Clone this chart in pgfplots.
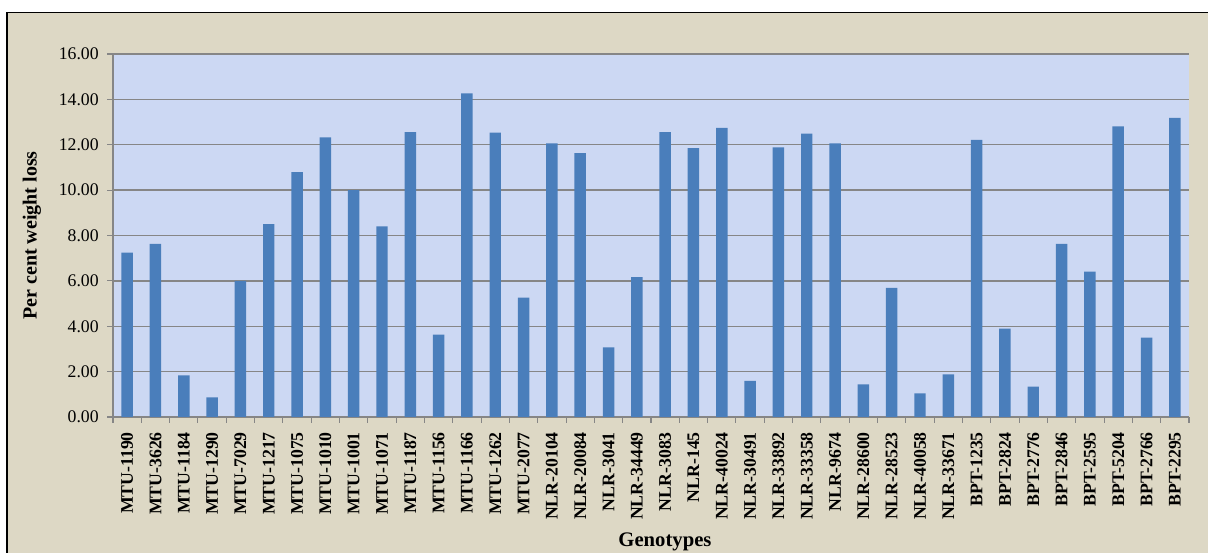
\documentclass[border=0pt]{standalone}
\usepackage{fontspec}
\setmainfont{Liberation Serif}
\usepackage{pgfplots}
\pgfplotsset{compat=1.18}
\definecolor{beige}{RGB}{221,216,197}
\definecolor{plotbg}{RGB}{204,216,243}
\definecolor{barblue}{RGB}{74,126,187}
\definecolor{gridgray}{RGB}{134,134,134}
\begin{document}
\begin{tikzpicture}
\useasboundingbox (0,0) rectangle (906pt,414.75pt);
\fill[white] (0,0) rectangle (906pt,414.75pt);
\filldraw[fill=beige, draw=black, line width=0.9pt] (5.25pt,-10pt) rectangle (920pt,405.4pt);
\begin{axis}[
  at={(84.75pt,102pt)}, anchor=south west,
  scale only axis, width=807pt, height=272.25pt,
  xmin=-0.5, xmax=37.5, ymin=0, ymax=16,
  axis x line*=bottom, axis y line*=left,
  axis line style={gridgray, line width=1pt, -},
  axis background/.style={fill=plotbg},
  ymajorgrids, grid style={gridgray, line width=1pt},
  tick align=outside, major tick length=4.2pt,
  tick style={gridgray, line width=0.8pt},
  ytick={0,2,...,16},
  /pgf/number format/fixed,
  /pgf/number format/fixed zerofill,
  /pgf/number format/precision=2,
  /pgf/number format/assume math mode=true,
  yticklabel style={font=\fontsize{13.3}{15}\selectfont, xshift=-3pt},
  xtick={-0.5,0.5,...,37.5},
  xticklabels={},
  extra x ticks={0,1,...,37},
  extra x tick labels={MTU-1190,MTU-3626,MTU-1184,MTU-1290,MTU-7029,MTU-1217,MTU-1075,MTU-1010,MTU-1001,MTU-1071,MTU-1187,MTU-1156,MTU-1166,MTU-1262,MTU-2077,NLR-20104,NLR-20084,NLR-3041,NLR-34449,NLR-3083,NLR-145,NLR-40024,NLR-30491,NLR-33892,NLR-33358,NLR-9674,NLR-28600,NLR-28523,NLR-40058,NLR-33671,BPT-1235,BPT-2824,BPT-2776,BPT-2846,BPT-2595,BPT-5204,BPT-2766,BPT-2295},
  extra x tick style={grid=none, tick style={draw=none},
    tick label style={rotate=90, anchor=east, inner xsep=7pt, font=\bfseries\fontsize{13.3}{15}\selectfont}},
  xlabel={Genotypes},
  ylabel={Per cent weight loss},
  xlabel style={at={([yshift=-94pt]axis description cs:0.513,0)}, anchor=center, font=\bfseries\fontsize{15.5}{18}\selectfont},
  ylabel style={at={([xshift=-60.75pt]axis description cs:0,0.5)}, anchor=center, font=\bfseries\fontsize{15}{18}\selectfont},
]
\addplot[ybar, bar width=8.6pt, fill=barblue, draw=none] coordinates {
(0,7.24) (1,7.63) (2,1.84) (3,0.87) (4,6.00) (5,8.50) (6,10.79) (7,12.32) (8,10.00) (9,8.40)
(10,12.56) (11,3.63) (12,14.26) (13,12.53) (14,5.26) (15,12.06) (16,11.63) (17,3.07) (18,6.16) (19,12.56)
(20,11.85) (21,12.74) (22,1.59) (23,11.88) (24,12.49) (25,12.06) (26,1.44) (27,5.69) (28,1.04) (29,1.88)
(30,12.21) (31,3.90) (32,1.34) (33,7.63) (34,6.41) (35,12.81) (36,3.50) (37,13.18)
};
\end{axis}
\end{tikzpicture}
\end{document}
